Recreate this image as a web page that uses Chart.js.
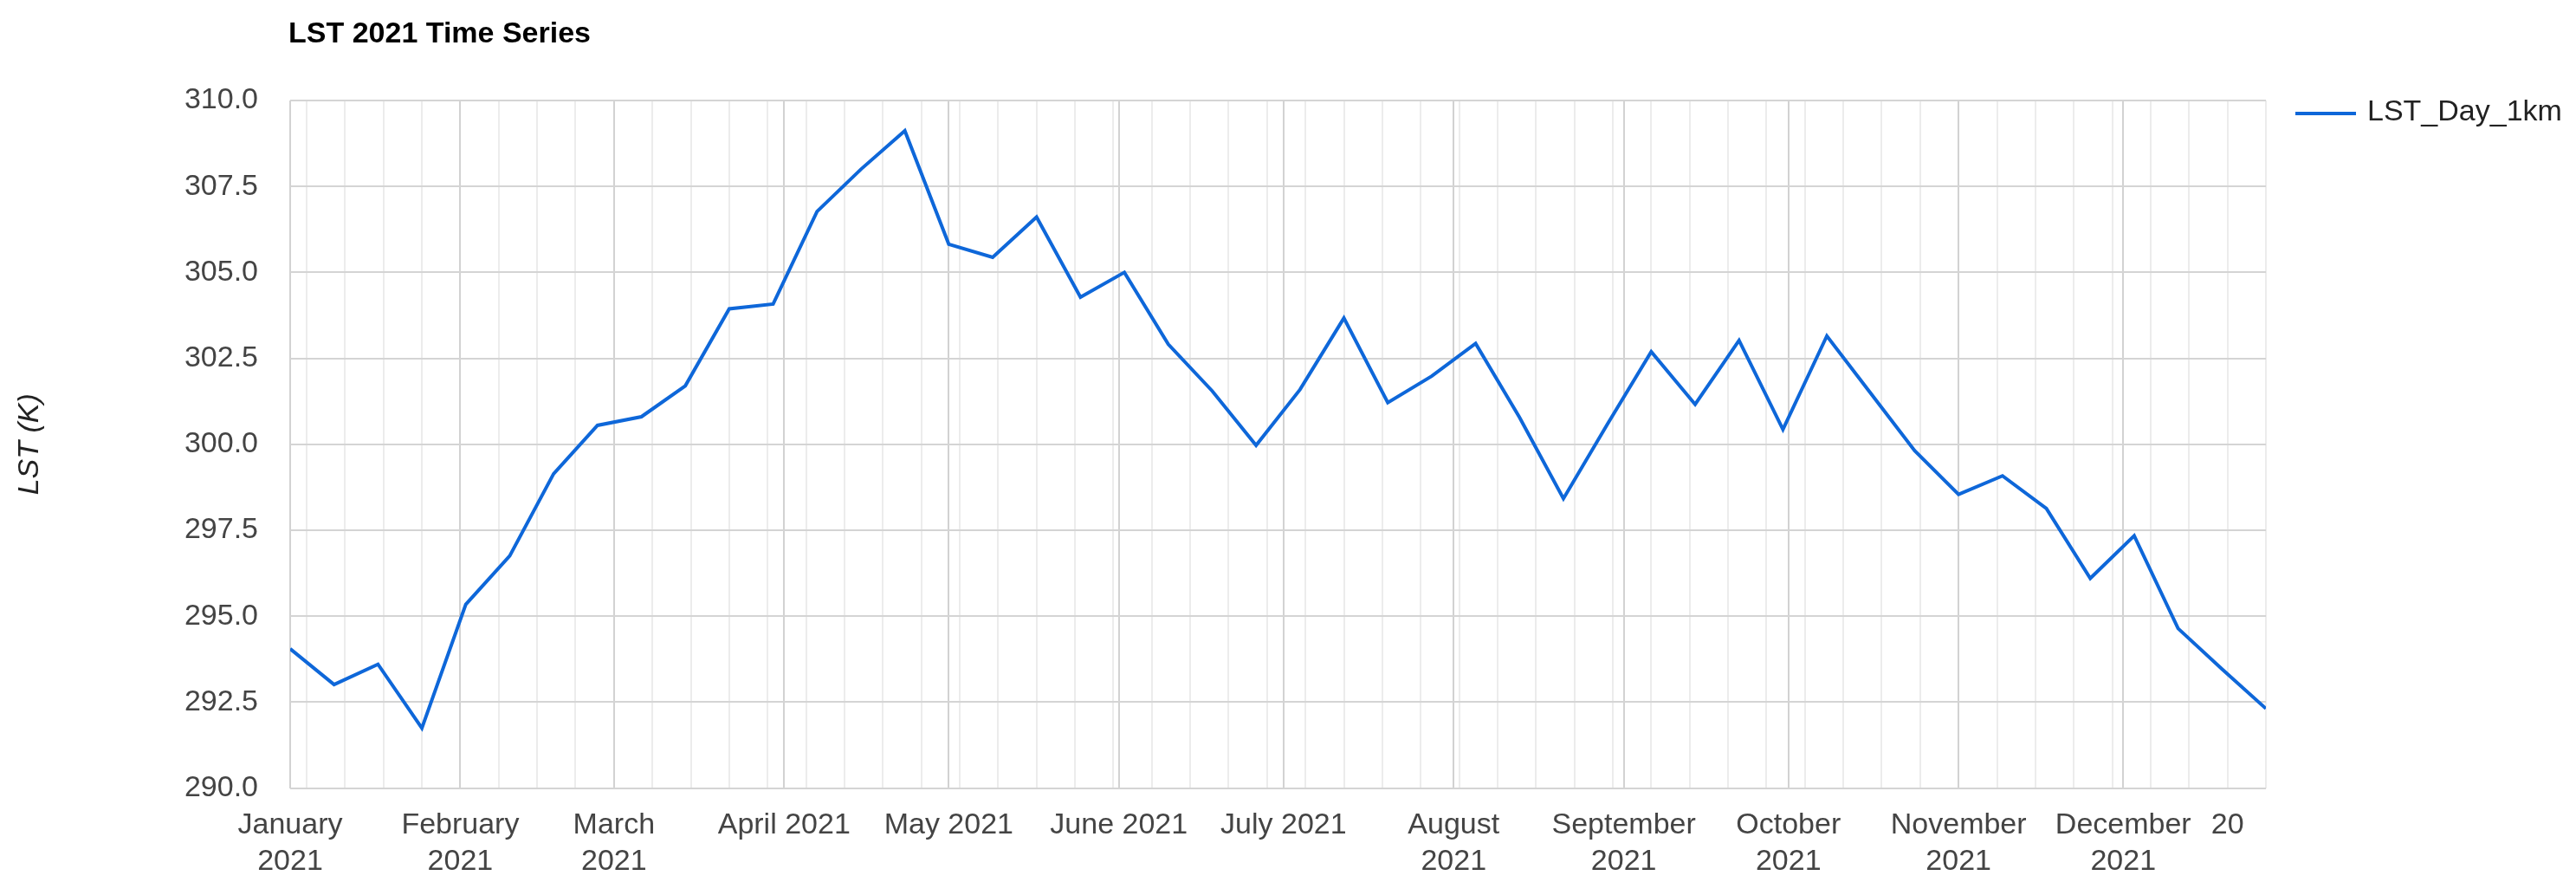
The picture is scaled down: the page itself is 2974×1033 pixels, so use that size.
<!DOCTYPE html>
<html>
<head>
<meta charset="utf-8">
<title>LST 2021 Time Series</title>
<script src="https://cdn.jsdelivr.net/npm/chart.js@4.4.1/dist/chart.umd.min.js"></script>
<style>
  html, body { margin: 0; padding: 0; background: #fff; }
  #wrap { width: 2974px; height: 1033px; }
</style>
</head>
<body>
<div id="wrap"><canvas id="lstChart" width="2974" height="1033"></canvas></div>
<script>
// MODIS 8-day composites, 2021
var fechas = [
  '2021-01-01','2021-01-09','2021-01-17','2021-01-25','2021-02-02','2021-02-10','2021-02-18','2021-02-26',
  '2021-03-06','2021-03-14','2021-03-22','2021-03-30','2021-04-07','2021-04-15','2021-04-23','2021-05-01',
  '2021-05-09','2021-05-17','2021-05-25','2021-06-02','2021-06-10','2021-06-18','2021-06-26','2021-07-04',
  '2021-07-12','2021-07-20','2021-07-28','2021-08-05','2021-08-13','2021-08-21','2021-08-29','2021-09-06',
  '2021-09-14','2021-09-22','2021-09-30','2021-10-08','2021-10-16','2021-10-24','2021-11-01','2021-11-09',
  '2021-11-17','2021-11-25','2021-12-03','2021-12-11','2021-12-19','2021-12-27'
];
var lstDay = [
  294.05, 293.01, 293.60, 291.74, 295.34, 296.75, 299.14, 300.55,
  300.80, 301.70, 303.94, 304.08, 306.77, 308.00, 309.12, 305.82,
  305.44, 306.61, 304.28, 305.00, 302.91, 301.55, 299.97, 301.59,
  303.67, 301.21, 301.98, 302.93, 300.78, 298.42, 300.58, 302.69,
  301.16, 303.02, 300.43, 303.15, 301.48, 299.81, 298.54, 299.08,
  298.13, 296.10, 297.34, 294.64, 293.46, 292.31
];
var yTicks = [290, 292.5, 295, 297.5, 300, 302.5, 305, 307.5, 310];
var mesesInicio = ['2021-01-01','2021-02-01','2021-03-01','2021-04-01','2021-05-01','2021-06-01',
                   '2021-07-01','2021-08-01','2021-09-01','2021-10-01','2021-11-01','2021-12-01'];
var mesesLabel = [
  ['January','2021'], ['February','2021'], ['March','2021'], 'April 2021', 'May 2021', 'June 2021',
  'July 2021', ['August','2021'], ['September','2021'], ['October','2021'], ['November','2021'], ['December','2021']
];
var extraTick = '2021-12-20';
var extraLabel = '20';
var serieNombre = 'LST_Day_1km';
var titulo = 'LST 2021 Time Series';
var ejeY = 'LST (K)';

var colorLinea = '#0e67d9';
var fuente = "'Liberation Sans', Arial, sans-serif";

function dia(f){
  var p = f.split('-');
  return (Date.UTC(+p[0], +p[1]-1, +p[2]) - Date.UTC(2021,0,1)) / 86400000;
}

var puntos = [];
for (var i = 0; i < fechas.length; i++){
  puntos.push({x: dia(fechas[i]), y: lstDay[i]});
}
var xMax = dia(fechas[fechas.length-1]);

// gridline positions: month starts (major) + weekly mondays (minor)
var mayores = {};
for (var m = 0; m < mesesInicio.length; m++){
  mayores[dia(mesesInicio[m])] = mesesLabel[m];
}
var etiquetaExtra = {};
etiquetaExtra[dia(extraTick)] = extraLabel;
var posX = [];
for (var d = 3; d <= xMax; d += 7) posX.push(d); // 2021-01-04 is a monday
for (var k in mayores) if (posX.indexOf(+k) < 0) posX.push(+k);
posX.sort(function(a,b){ return a-b; });

var decoracion = {
  id: 'decoracion',
  afterDraw: function(chart){
    var ctx = chart.ctx, area = chart.chartArea;
    ctx.save();
    ctx.fillStyle = '#000';
    ctx.font = 'bold 34px ' + fuente;
    ctx.textBaseline = 'middle';
    ctx.textAlign = 'left';
    ctx.fillText(titulo, area.left - 2, 40);

    ctx.strokeStyle = colorLinea;
    ctx.lineWidth = 4;
    ctx.beginPath();
    ctx.moveTo(2650, 131);
    ctx.lineTo(2720, 131);
    ctx.stroke();
    ctx.fillStyle = '#222';
    ctx.font = '34px ' + fuente;
    ctx.fillText(serieNombre, 2733, 130);
    ctx.restore();
  }
};

var grafico = new Chart(document.getElementById('lstChart'), {
  type: 'line',
  data: {
    datasets: [{
      label: serieNombre,
      data: puntos,
      borderColor: colorLinea,
      backgroundColor: colorLinea,
      borderWidth: 4,
      pointRadius: 0,
      tension: 0,
      fill: false
    }]
  },
  options: {
    responsive: false,
    animation: false,
    devicePixelRatio: 1,
    layout: { padding: { top: 116, right: 358, left: 0, bottom: 0 } },
    plugins: {
      legend: { display: false },
      title: { display: false },
      tooltip: { enabled: false }
    },
    scales: {
      x: {
        type: 'linear',
        min: 0,
        max: xMax,
        border: { display: false },
        afterFit: function(s){ s.height = 123.5; },
        afterBuildTicks: function(s){
          s.ticks = posX.map(function(v){ return {value: v}; });
        },
        grid: {
          drawTicks: false,
          lineWidth: 2,
          color: function(c){
            if (c.tick && mayores[c.tick.value] !== undefined) return '#d2d2d2';
            return '#ececec';
          }
        },
        ticks: {
          autoSkip: false,
          maxRotation: 0,
          minRotation: 0,
          padding: 22,
          color: '#444',
          font: { family: fuente, size: 34, lineHeight: 1.24 },
          callback: function(v){
            if (mayores[v] !== undefined) return mayores[v];
            if (etiquetaExtra[v] !== undefined) return etiquetaExtra[v];
            return '';
          }
        }
      },
      y: {
        min: 290,
        max: 310,
        border: { display: false },
        afterFit: function(s){ s.width = 335; },
        afterBuildTicks: function(s){
          s.ticks = yTicks.map(function(v){ return {value: v}; });
        },
        grid: { drawTicks: false, lineWidth: 2, color: '#d4d4d4' },
        ticks: {
          padding: 37,
          color: '#444',
          font: { family: fuente, size: 34 },
          callback: function(v){ return v.toFixed(1); }
        },
        title: {
          display: true,
          text: ejeY,
          color: '#222',
          font: { family: fuente, size: 34, style: 'italic', lineHeight: 1.2 },
          padding: { top: 14, bottom: 0 }
        }
      }
    }
  },
  plugins: [decoracion]
});
</script>
</body>
</html>
